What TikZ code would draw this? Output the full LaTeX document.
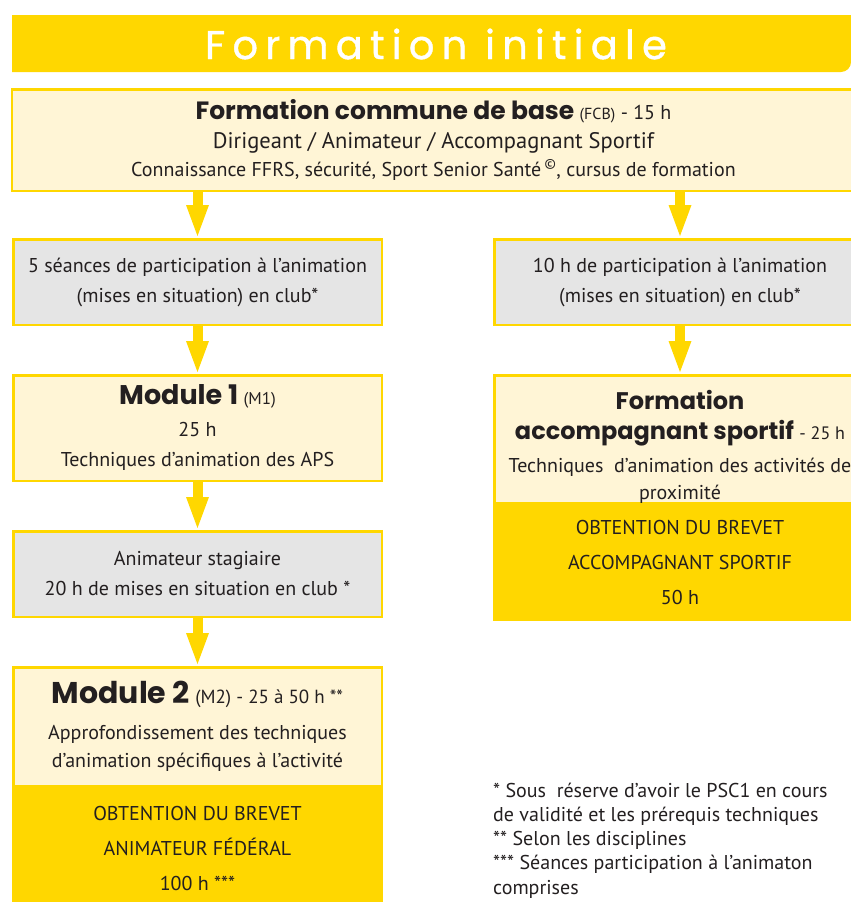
\documentclass[tikz,border=0pt]{standalone}
\usepackage{fontspec}
\setmainfont{PT Sans}
\newfontfamily\headfont{Poppins}
\newfontfamily\titlefont{Poppins}[LetterSpace=18, FakeBold=1]
\usetikzlibrary{arrows.meta,positioning}
\definecolor{ffjaune}{HTML}{FFD700}
\definecolor{ffcreme}{HTML}{FFF5D6}
\definecolor{ffgris}{HTML}{E5E5E5}
\definecolor{fftexte}{HTML}{231F20}
\newcommand{\titrebloc}[2][25]{{\headfont\bfseries\fontsize{#1}{#1}\selectfont #2}}
\tikzset{
    cadre/.style={
           rectangle,
           draw=ffjaune, line width=2.5pt,
           inner sep=0pt,
           align=center,
           text=fftexte,
           minimum width=368.5pt,
           font=\fontsize{20}{30}\selectfont
           },
    creme/.style={
           cadre,
           fill=ffcreme
           },
    gris/.style={
           cadre,
           fill=ffgris,
           minimum height=85.5pt
           },
    brevet/.style={
           cadre,
           fill=ffjaune,
           font=\fontsize{20}{35}\selectfont
           },
    fleche/.style={
           -{Triangle[width=23pt,length=31pt,line width=0pt,fill=ffjaune]},
           draw=ffjaune, line width=10pt,
           shorten >=2pt
           }
}
\begin{document}
\begin{tikzpicture}[x=1pt, y=-1pt, node distance=48pt]
   \useasboundingbox (0,0) rectangle (851,902);
   % bandeau du titre
   \fill[ffjaune] (12,15) -- (851,15) [rounded corners=10pt] -- (851,72) [sharp corners] -- (12,72) -- cycle;
   \node[text=white, font=\titlefont\fontsize{40}{40}\selectfont] (titre) at (436,44) {Formation initiale};

   \node[creme, minimum width=843pt, minimum height=101.5pt] (fcb) at (433.5,140)
        {\titrebloc{Formation commune de base} {\fontsize{16}{16}\selectfont(FCB)} - 15 h\\[-1pt]
         {\fontsize{22.5}{22.5}\selectfont Dirigeant / Animateur / Accompagnant Sportif}\\[-2pt]
         Connaissance FFRS, sécurité, Sport Senior Santé\,\textsuperscript{©}, cursus de formation};

   % colonne animateur
   \node[gris] (s5) at (197.5,282) {5 séances de participation à l’animation\\(mises en situation) en club*};
   \node[creme, minimum height=105.5pt] (m1) [below=of s5]
        {\titrebloc[27]{Module 1} {\fontsize{17}{17}\selectfont(M1)}\\[2pt] 25 h\\[0pt] Techniques d’animation des APS};
   \node[gris] (stag) [below=of m1] {Animateur stagiaire\\20 h de mises en situation en club *};
   \node[creme, minimum height=118.5pt] (m2) [below=of stag]
        {\titrebloc[30]{Module 2} {\fontsize{19}{19}\selectfont(M2) - 25 à 50 h **}\\[6pt] Approfondissement des techniques\\[-2pt] d’animation spécifiques à l’activité};
   \node[brevet, minimum height=120pt] (m2b) [below=0pt of m2]
        {OBTENTION DU BREVET\\ANIMATEUR FÉDÉRAL\\100 h ***};

   % colonne accompagnant
   \node[gris, minimum width=371.5pt] (h10) at (680,282) {10 h de participation à l’animation\\(mises en situation) en club*};
   \node[creme, minimum width=371.5pt, minimum height=124.5pt] (fas) [below=of h10]
        {\mbox{}\\[4pt] \titrebloc[24]{Formation}\\[0pt] \titrebloc[24]{accompagnant sportif} {\fontsize{18}{18}\selectfont - 25 h}\\[3pt]
         Techniques\ \ d’animation des activités de\\[-3pt] proximité};
   \node[brevet, minimum width=371.5pt, minimum height=113.5pt] (fasb) [below=0pt of fas]
        {OBTENTION DU BREVET\\ACCOMPAGNANT SPORTIF\\50 h};

   \node[anchor=north west, inner sep=0pt, align=left, text=fftexte,
         font=\fontsize{20}{24}\selectfont] (notes) at (493,783)
        {* Sous\ \ réserve d’avoir le PSC1 en cours\\de validité et les prérequis techniques\\
         ** Selon les disciplines\\*** Séances participation à l’animaton\\[1pt] comprises};

   % fleches
   \draw[fleche] (fcb.south -| s5.north) -- (s5.north);
   \draw[fleche] (s5) -- (m1);
   \draw[fleche] (m1) -- (stag);
   \draw[fleche] (stag) -- (m2);
   \draw[fleche] (fcb.south -| h10.north) -- (h10.north);
   \draw[fleche] (h10) -- (fas);
\end{tikzpicture}
\end{document}
